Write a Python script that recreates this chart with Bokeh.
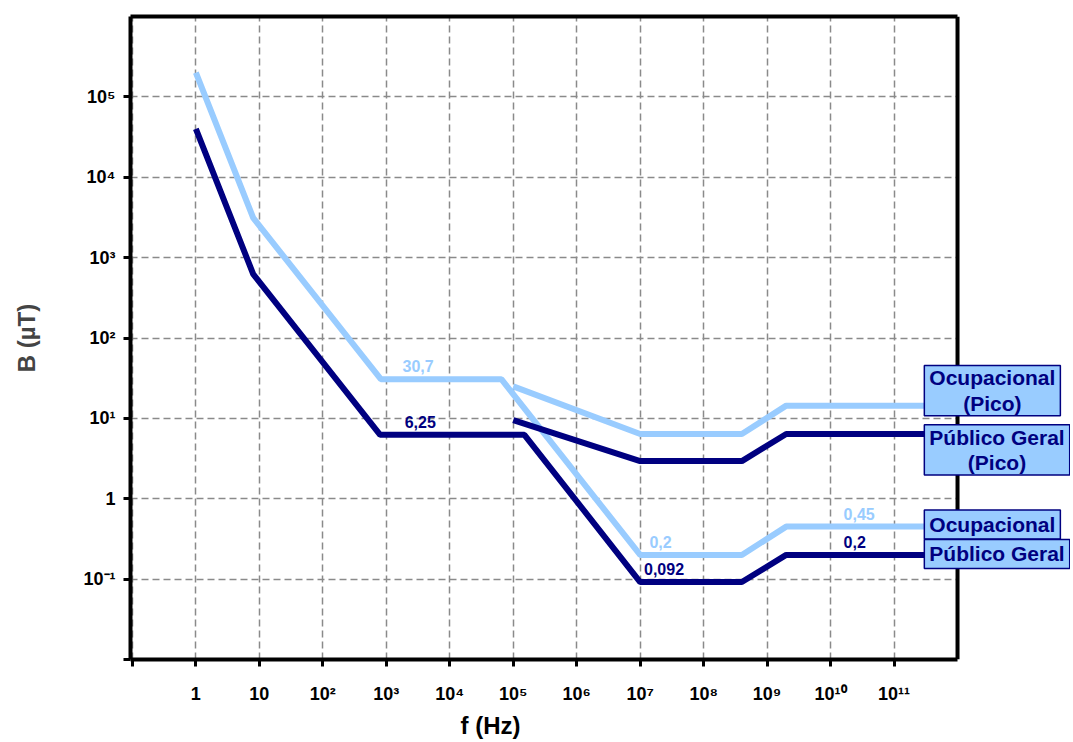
from bokeh.plotting import figure
from bokeh.models import Range1d, FixedTicker, Label, Title, ColumnDataSource, LogAxis, BoxAnnotation, Span
from bokeh.core.properties import value
from bokeh.embed import file_html
from bokeh.resources import INLINE

# ---- data (ICNIRP reference levels) ----
occ_f = [1, 8, 820, 6.5e4, 1e7, 4e8, 2e9, 3e11]
occ_B = [2e5, 3125, 30.7, 30.7, 0.2, 0.2, 0.45, 0.45]
pub_f = [1, 8, 800, 1.5e5, 1e7, 4e8, 2e9, 3e11]
pub_B = [4e4, 625, 6.25, 6.25, 0.092, 0.092, 0.2, 0.2]
occ_peak_f = [1e5, 1e7, 4e8, 2e9, 3e11]
occ_peak_B = [25, 6.4, 6.4, 14.4, 14.4]
pub_peak_f = [1e5, 1e7, 4e8, 2e9, 3e11]
pub_peak_B = [9.5, 2.94, 2.94, 6.4, 6.4]

x_ticks = [10.0 ** k for k in range(-1, 12)]
x_tick_labels = ["", "1", "10", "10²", "10³", "10⁴", "10⁵", "10⁶", "10⁷", "10⁸", "10⁹", "10¹⁰", "10¹¹"]
y_ticks = [10.0 ** k for k in range(-2, 6)]
y_tick_labels = ["", "10⁻¹", "1", "10¹", "10²", "10³", "10⁴", "10⁵"]

x_min, x_max = 10 ** -1.03, 1e12      # axis box of the chart
y_min, y_max = 1e-2, 1e6
x_view_end = 10 ** 13.78              # extra room on the right for the series boxes

val_text = ["30,7", "6,25", "0,2", "0,092", "0,45", "0,2"]
val_f = [1.8e3, 1.95e3, 1.4e7, 1.15e7, 1.6e10, 1.6e10]
val_B = [30.7, 6.25, 0.2, 0.092, 0.45, 0.2]
val_series = ["occ", "pub", "occ", "pub", "occ", "pub"]

box_text = ["Ocupacional\n(Pico)", "Público Geral\n(Pico)", "Ocupacional", "Público Geral"]
box_B = [14.4, 6.4, 0.45, 0.2]
box_dy = [15, -16, 2, 1]
box_pad = [(5, 1), (5, 1), (5, 3), (5, 3)]

LIGHT = "#99CCFF"
DARK = "#000080"
FONT = "Liberation Sans"

p = figure(width=1070, height=742, x_axis_type="log", y_axis_type="log",
           x_range=Range1d(x_min, x_view_end), y_range=Range1d(y_min, y_max),
           output_backend="svg", toolbar_location=None,
           min_border_left=130, min_border_right=0, min_border_top=16, min_border_bottom=83)

p.outline_line_color = None
xax = p.below[0]
yax = p.left[0]

top_axis = LogAxis(ticker=FixedTicker(ticks=[]), major_tick_line_color=None,
                   minor_tick_line_color=None, major_label_standoff=0,
                   major_tick_out=0, major_tick_in=0)
p.add_layout(top_axis, "above")

for ax in (xax, yax, top_axis):
    ax.axis_line_width = 4
    ax.axis_line_color = "black"
for ax in (xax, top_axis):
    ax.bounds = (x_min, x_max)

for ax in (xax, yax):
    ax.major_tick_line_width = 3
    ax.major_tick_line_color = "black"
    ax.major_tick_out = 7
    ax.major_tick_in = 0
    ax.minor_tick_line_color = None
    ax.major_label_text_font = FONT
    ax.major_label_text_font_style = "bold"
    ax.major_label_text_font_size = "18px"
    ax.major_label_text_color = "black"

xax.ticker = FixedTicker(ticks=x_ticks)
yax.ticker = FixedTicker(ticks=y_ticks)
xax.major_label_overrides = dict(zip(x_ticks, x_tick_labels))
yax.major_label_overrides = dict(zip(y_ticks, y_tick_labels))
xax.major_label_standoff = 17
yax.major_label_standoff = 8

yax.axis_label = "B (µT)"
yax.axis_label_text_font = FONT
yax.axis_label_text_font_style = "bold"
yax.axis_label_text_font_size = "24px"
yax.axis_label_standoff = 40

t = Title(text="f (Hz)", align="left", offset=330, text_font=FONT,
          text_font_style="bold", text_font_size="24px", text_color="black", standoff=7)
p.add_layout(t, "below")

for g in (p.xgrid[0], p.ygrid[0]):
    g.grid_line_color = "#8a8a8a"
    g.grid_line_width = 1.5
    g.grid_line_dash = "7 4"
p.xgrid[0].ticker = FixedTicker(ticks=x_ticks)
p.ygrid[0].ticker = FixedTicker(ticks=y_ticks)

p.line(occ_f, occ_B, line_color=LIGHT, line_width=6)
p.line(pub_f, pub_B, line_color=DARK, line_width=6)
p.line(occ_peak_f, occ_peak_B, line_color=LIGHT, line_width=6)
p.line(pub_peak_f, pub_peak_B, line_color=DARK, line_width=6)

src = ColumnDataSource(dict(x=val_f, y=val_B, t=val_text,
                            c=[LIGHT if s == "occ" else DARK for s in val_series]))
p.text(x="x", y="y", text="t", source=src, text_color="c", text_font=value(FONT),
       text_font_style="bold", text_font_size="16px", text_align="left",
       text_baseline="bottom", y_offset=-7)

# blank area right of the axis box, then its right edge
p.add_layout(BoxAnnotation(left=x_max, fill_color="white", fill_alpha=1, line_color=None))
p.add_layout(Span(location=x_max, dimension="height", line_color="black", line_width=4))

for txt, b, dy, pad in zip(box_text, box_B, box_dy, box_pad):
    lab = Label(x=occ_f[-1], y=b, x_units="data", y_units="data", text=txt,
                x_offset=0, y_offset=dy, anchor="center_left", text_align="center",
                text_font=FONT, text_font_style="bold", text_font_size="21px",
                text_line_height=1.1,
                text_color=DARK, background_fill_color=LIGHT,
                border_line_color=DARK, border_line_width=1.5, padding=pad)
    p.add_layout(lab)

open("out.html", "w").write(file_html(p, INLINE))
